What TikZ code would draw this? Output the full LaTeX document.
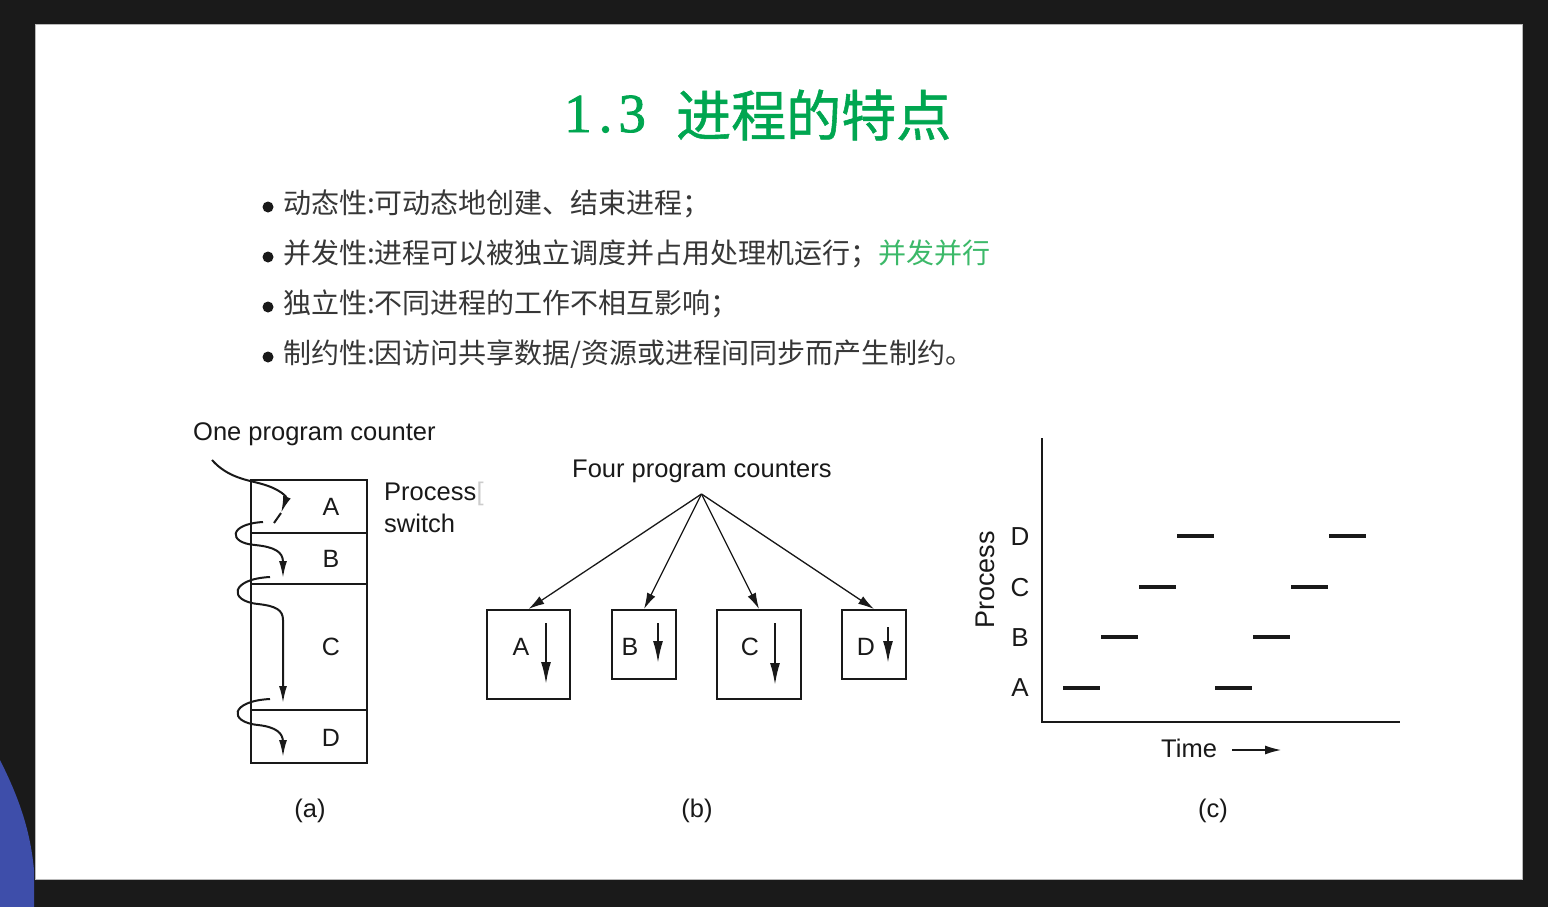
\documentclass[tikz,border=0pt]{standalone}
\usepackage{fontspec}
\setmainfont{Liberation Sans}
\newfontfamily\cjkfont{Noto Sans CJK SC}
\newfontfamily\cjktitle[FakeBold=1]{Noto Sans CJK SC}
\newfontfamily\titleserif[FakeBold=1.5]{Liberation Serif}
\usetikzlibrary{arrows.meta}
\definecolor{boardbg}{RGB}{26,26,26}
\definecolor{titlegreen}{RGB}{0,166,80}
\definecolor{notegreen}{RGB}{60,185,105}
\definecolor{bodytext}{RGB}{55,55,55}
\definecolor{inkblack}{RGB}{25,25,25}
\definecolor{jacket}{RGB}{62,78,170}

\begin{document}
\begin{tikzpicture}[x=1pt,y=-1pt,
  lbl/.style={inner sep=0pt, text=inkblack, font=\fontsize{25.5}{30}\selectfont},
  letter/.style={inner sep=0pt, text=inkblack, font=\fontsize{25}{30}\selectfont},
  bullettext/.style={anchor=base west, inner sep=0pt, text=bodytext, font=\cjkfont\fontsize{28}{32}\selectfont},
  segbox/.style={draw=inkblack, line width=2pt, minimum width=116pt, inner sep=0pt},
  pbox/.style={draw=inkblack, line width=2pt, inner sep=0pt},
  flowline/.style={draw=inkblack, line width=2pt},
  flow/.style={flowline, -{Latex[length=17pt,width=8pt]}},
  fanarrow/.style={draw=inkblack, line width=1.3pt, -{Latex[length=16pt,width=9pt]}},
  pcarrow/.style={draw=inkblack, line width=2pt, -{Latex[length=22pt,width=10pt]}},
  bar/.style={draw=inkblack, line width=4.8pt},
  axis/.style={draw=inkblack, line width=2.5pt}
]
% dark surround and the slide
\fill[boardbg] (0,0) rectangle (1548,907);
\useasboundingbox (0,0) rectangle (1548,907);
\fill[jacket] (0,760) .. controls (15,790) and (30,825) .. (34,870) -- (34,907) -- (0,907) -- cycle;
\fill[white] (35,25) rectangle (1522,879);
\draw[gray!55, line width=1pt] (35,25) rectangle (1522,879);

% title
\node[anchor=base west, inner sep=0pt, text=titlegreen, font=\titleserif\fontsize{55}{60}\selectfont] (tnum) at (564,132) {1\hspace{7pt}.\hspace{6pt}3};
\node[anchor=base west, inner sep=0pt, text=titlegreen, font=\cjktitle\fontsize{55}{60}\selectfont] (ttext) at (676,136) {进程的特点};

% bullet list
\foreach \y in {207,257,307,357} \fill[inkblack] (268,\y) circle (5.5);
\node[bullettext] (b1) at (283,213) {动态性:可动态地创建、结束进程；};
\node[bullettext] (b2) at (283,263) {并发性:进程可以被独立调度并占用处理机运行；\textcolor{notegreen}{并发并行}};
\node[bullettext] (b3) at (283,313) {独立性:不同进程的工作不相互影响；};
\node[bullettext] (b4) at (283,363) {制约性:因访问共享数据/资源或进程间同步而产生制约。};

% (a) one program counter
\node[lbl, anchor=base west] (opc) at (193,440) {One program counter};
\node[segbox, minimum height=53pt] (segA) at (309,506.5) {};
\node[segbox, minimum height=51pt] (segB) at (309,558.5) {};
\node[segbox, minimum height=126pt] (segC) at (309,647) {};
\node[segbox, minimum height=53pt] (segD) at (309,736.5) {};
\node[letter] (la) at (331,507) {A};
\node[letter] (lb) at (331,559) {B};
\node[letter] (lc) at (331,647) {C};
\node[letter] (ld) at (331,738) {D};
\node[lbl, anchor=base west] (ps) at (384,500) {Process};
\node[anchor=base west, inner sep=0pt, text=gray!40, font=\fontsize{25.5}{30}\selectfont] at (ps.base east) {[};
\node[lbl, anchor=base west] (sw) at (384,532) {switch};

% the single counter running through A, B, C and D
\coordinate (pcstart) at (212,460);
\coordinate (tipA) at (281,513);
\coordinate (tailA) at (274,523);
\coordinate (tipB) at (283,578);
\coordinate (tipC) at (283,703);
\coordinate (tipD) at (283,757);
\draw[flow] (pcstart) .. controls (228,478) and (248,480) .. (262,484) .. controls (280,489) and (287,497) .. (tipA);
\draw[flowline] (tipA) -- (tailA);
\draw[flow] (263,522) .. controls (228,524) and (228,543) .. (255,545) .. controls (275,547) and (283,552) .. (283,562) -- (tipB);
\draw[flow] (270,577) .. controls (230,579) and (228,601) .. (258,604) .. controls (276,606) and (283,610) .. (283,620) -- (tipC);
\draw[flow] (270,699) .. controls (230,701) and (228,722) .. (258,725) .. controls (276,727) and (283,733) .. (283,742) -- (tipD);
\node[lbl] (capa) at (310,811) {(a)};

% (b) four program counters
\node[lbl, anchor=base west] (fpc) at (572,477) {Four program counters};
\coordinate (apex) at (701.5,494);
\node[pbox, minimum width=83pt, minimum height=89pt] (bA) at (528.5,654.5) {};
\node[pbox, minimum width=64pt, minimum height=69pt] (bB) at (644,644.5) {};
\node[pbox, minimum width=84pt, minimum height=89pt] (bC) at (759,654.5) {};
\node[pbox, minimum width=64pt, minimum height=69pt] (bD) at (874,644.5) {};
\draw[fanarrow] (apex) -- (bA.north);
\draw[fanarrow] (apex) -- (bB.north);
\draw[fanarrow] (apex) -- (bC.north);
\draw[fanarrow] (apex) -- (bD.north);
\node[letter] (pa) at (521,647) {A};
\node[letter] (pb) at (630,647) {B};
\node[letter] (pc) at (750,647) {C};
\node[letter] (pd) at (866,647) {D};
\draw[pcarrow] (546,623) -- (546,684);
\draw[pcarrow] (658,623) -- (658,663);
\draw[pcarrow] (775,623) -- (775,685);
\draw[pcarrow] (888,627) -- (888,663);
\node[lbl] (capb) at (697,811) {(b)};

% (c) time line
\coordinate (ytop) at (1042,438);
\coordinate (origin) at (1042,722);
\coordinate (xend) at (1400,722);
\draw[axis] (ytop) -- (origin) -- (xend);
\node[lbl, font=\fontsize{27}{30}\selectfont, rotate=90] (proc) at (985,580) {Process};
\node[letter, font=\fontsize{26}{30}\selectfont] (ra) at (1020,688) {A};
\node[letter, font=\fontsize{26}{30}\selectfont] (rb) at (1020,638) {B};
\node[letter, font=\fontsize{26}{30}\selectfont] (rc) at (1020,588) {C};
\node[letter, font=\fontsize{26}{30}\selectfont] (rd) at (1020,537) {D};
\foreach \k/\y in {0/688,1/637,2/587,3/536,4/688,5/637,6/587,7/536}
  \draw[bar] ({1063+38*\k},\y) -- ++(37,0);
\node[lbl, anchor=west] (time) at (1161,748) {Time};
\coordinate (tstart) at (1232,750);
\coordinate (tend) at (1281,750);
\draw[fanarrow] (tstart) -- (tend);
\node[lbl] (capc) at (1213,811) {(c)};
\end{tikzpicture}
\end{document}
